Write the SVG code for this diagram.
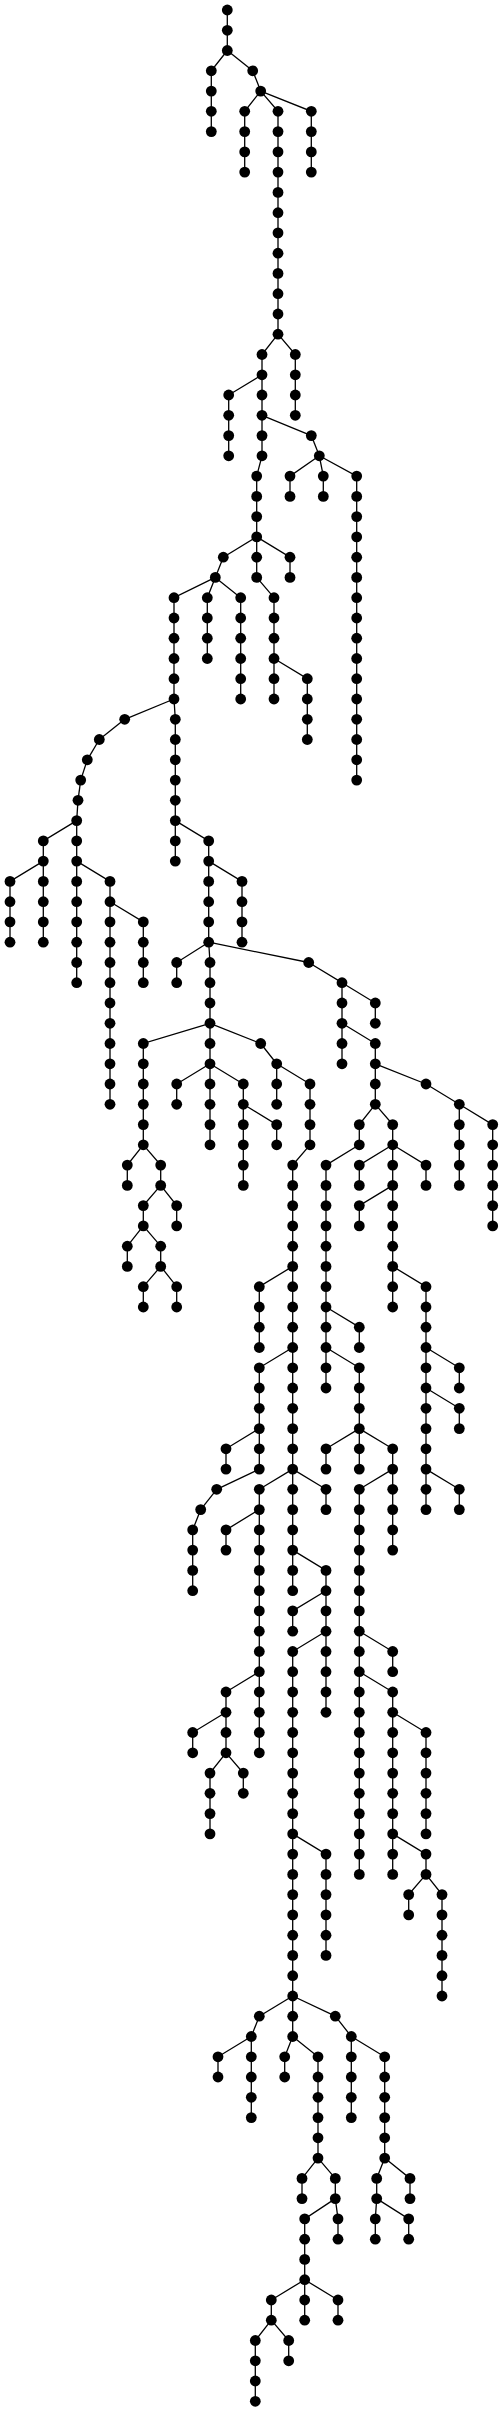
<svg xmlns="http://www.w3.org/2000/svg" width="503" height="2412" viewBox="0 0 503 2412">
<style>
#edges path{fill:none;stroke:#000;stroke-width:1.3}
.d{fill:#000}
</style>
<defs><circle id="d" class="d" cx="0" cy="0" r="5.4"/></defs>
<rect width="503" height="2412" fill="#fff"/>
<g id="edges">
<path d="M227.3 10V50.5"/>
<path d="M227.3 50.5L211.3 70.8V131.6"/>
<path d="M227.3 50.5L252.7 70.8"/>
<path d="M252.7 70.8L260.7 91.1"/>
<path d="M260.7 91.1L244.7 111.3V172.1"/>
<path d="M260.7 91.1L278 111.3V334.2"/>
<path d="M260.7 91.1L311.3 111.3V172.1"/>
<path d="M278 334.2L262 354.5V455.8"/>
<path d="M278 334.2L295.3 354.5V415.3"/>
<path d="M262 374.8L228.7 395V455.8"/>
<path d="M262 415.3L311.3 435.6"/>
<path d="M311.3 435.6L319.3 455.8"/>
<path d="M262 455.8L256.7 476.1V577.4"/>
<path d="M319.3 455.8L290 476.1V496.4"/>
<path d="M319.3 455.8L323.3 476.1V496.4"/>
<path d="M319.3 455.8L356.7 476.1V780.1"/>
<path d="M256.7 536.9L223.3 557.2"/>
<path d="M256.7 536.9L290 557.2V577.4"/>
<path d="M223.3 557.2L215.3 577.4"/>
<path d="M256.7 577.4L274 597.7V699"/>
<path d="M215.3 577.4L174 597.7V699"/>
<path d="M215.3 577.4L207.3 597.7V658.5"/>
<path d="M215.3 577.4L240.7 597.7V699"/>
<path d="M274 658.5L307.3 678.7V739.5"/>
<path d="M174 699L124.7 719.3"/>
<path d="M174 699L175.3 719.3V861.1"/>
<path d="M124.7 719.3L99.3 739.5"/>
<path d="M99.3 739.5L87.3 759.8"/>
<path d="M87.3 759.8L80.7 780.1"/>
<path d="M80.7 780.1L78 800.3"/>
<path d="M78 800.3L76.7 820.6V982.7"/>
<path d="M76.7 820.6L43.3 840.9V942.2"/>
<path d="M43.3 861.1L10 881.4V942.2"/>
<path d="M76.7 861.1L110 881.4V1104.3"/>
<path d="M110 901.7L143.3 921.9V982.7"/>
<path d="M175.3 820.6L208.7 840.9V942.2"/>
<path d="M208.7 861.1L242 881.4V942.2"/>
<path d="M208.7 942.2L176.7 962.5V982.7"/>
<path d="M208.7 942.2L210 962.5V1144.8"/>
<path d="M208.7 942.2L308.7 962.5"/>
<path d="M308.7 962.5L342 982.7V1063.8"/>
<path d="M342 982.7L375.3 1003V1023.3"/>
<path d="M210 1023.3L143.3 1043.5V1144.8"/>
<path d="M210 1023.3L260.7 1043.5"/>
<path d="M260.7 1043.5L276.7 1063.8V1104.3"/>
<path d="M276.7 1063.8L310 1084V1144.8"/>
<path d="M342 1023.3L375.3 1043.5V1104.3"/>
<path d="M375.3 1063.8L426 1084"/>
<path d="M426 1084L459.3 1104.3V1185.4"/>
<path d="M459.3 1104.3L492.7 1124.6V1225.9"/>
<path d="M210 1063.8L176.7 1084V1104.3"/>
<path d="M210 1063.8L243.3 1084V1185.4"/>
<path d="M243.3 1104.3L276.7 1124.6V1144.8"/>
<path d="M375.3 1104.3L359.3 1124.6V1144.8"/>
<path d="M375.3 1104.3L392.7 1124.6V1307"/>
<path d="M359.3 1144.8L326 1165.1V1388"/>
<path d="M392.7 1144.8L359.3 1165.1V1185.4"/>
<path d="M392.7 1144.8L426 1165.1V1185.4"/>
<path d="M392.7 1185.4L359.3 1205.6V1225.9"/>
<path d="M310 1144.8L292.7 1165.1V1590.7"/>
<path d="M143.3 1144.8L127.3 1165.1V1185.4"/>
<path d="M143.3 1144.8L160.7 1165.1V1185.4"/>
<path d="M160.7 1185.4L143.3 1205.6V1225.9"/>
<path d="M160.7 1185.4L176.7 1205.6V1225.9"/>
<path d="M143.3 1225.9L127.3 1246.2V1266.4"/>
<path d="M143.3 1225.9L160.7 1246.2V1266.4"/>
<path d="M160.7 1266.4L143.3 1286.7V1307"/>
<path d="M160.7 1266.4L176.7 1286.7V1307"/>
<path d="M292.7 1266.4L259.3 1286.7V1347.5"/>
<path d="M392.7 1266.4L426 1286.7V1509.6"/>
<path d="M326 1307L359.3 1327.2V1347.5"/>
<path d="M292.7 1347.5L259.3 1367.8V1469.1"/>
<path d="M326 1347.5L359.3 1367.8V1469.1"/>
<path d="M426 1347.5L459.3 1367.8V1388"/>
<path d="M426 1388L459.3 1408.3V1428.6"/>
<path d="M259.3 1428.6L226 1448.8V1469.1"/>
<path d="M359.3 1428.6L326 1448.8V1469.1"/>
<path d="M359.3 1428.6L392.7 1448.8V1550.1"/>
<path d="M259.3 1469.1L216.7 1489.3"/>
<path d="M292.7 1469.1L259.3 1489.3V1752.8"/>
<path d="M292.7 1469.1L326 1489.3V1509.6"/>
<path d="M392.7 1469.1L359.3 1489.3V1874.4"/>
<path d="M426 1469.1L459.3 1489.3V1509.6"/>
<path d="M216.7 1489.3L200.7 1509.6"/>
<path d="M200.7 1509.6L192.7 1529.9V1590.7"/>
<path d="M259.3 1509.6L226 1529.9V1550.1"/>
<path d="M292.7 1550.1L326 1570.4V1712.3"/>
<path d="M326 1590.7L292.7 1610.9V1631.2"/>
<path d="M326 1631.2L292.7 1651.5V2036.5"/>
<path d="M359.3 1631.2L392.7 1651.5V1671.7"/>
<path d="M359.3 1671.7L392.7 1692V1874.4"/>
<path d="M259.3 1671.7L226 1692V1752.8"/>
<path d="M226 1712.3L192.7 1732.5V1752.8"/>
<path d="M226 1752.8L210 1773.1V1833.9"/>
<path d="M226 1752.8L243.3 1773.1V1793.3"/>
<path d="M392.7 1712.3L426 1732.5V1833.9"/>
<path d="M292.7 1833.9L326 1854.1V1955.4"/>
<path d="M392.7 1833.9L426 1854.1V1874.4"/>
<path d="M426 1874.4L408.7 1894.6V1914.9"/>
<path d="M426 1874.4L442 1894.6V1996"/>
<path d="M292.7 1996L259.3 2016.2"/>
<path d="M292.7 1996L335.3 2016.2"/>
<path d="M259.3 2016.2L251.3 2036.5V2117.6"/>
<path d="M335.3 2016.2L351.3 2036.5V2117.6"/>
<path d="M251.3 2036.5L218 2056.8V2077"/>
<path d="M292.7 2036.5L284.7 2056.8V2077"/>
<path d="M292.7 2036.5L318 2056.8V2158.1"/>
<path d="M351.3 2036.5L384.7 2056.8V2158.1"/>
<path d="M318 2158.1L302 2178.4V2198.6"/>
<path d="M318 2158.1L335.3 2178.4V2198.6"/>
<path d="M384.7 2158.1L376.7 2178.4V2198.6"/>
<path d="M384.7 2158.1L410 2178.4V2198.6"/>
<path d="M335.3 2198.6L304.7 2218.9V2320.2"/>
<path d="M335.3 2198.6L338 2218.9V2239.2"/>
<path d="M376.7 2198.6L375.3 2218.9V2239.2"/>
<path d="M376.7 2198.6L408.7 2218.9V2239.2"/>
<path d="M304.7 2279.7L271.3 2300V2320.2"/>
<path d="M304.7 2279.7L338 2300V2320.2"/>
<path d="M271.3 2320.2L255.3 2340.5V2401.3"/>
<path d="M271.3 2320.2L288.7 2340.5V2360.8"/>
</g>
<g id="nodes">
<g id="n0_682"><use href="#d" x="227.3" y="10"/></g>
<g id="n1_682"><use href="#d" x="227.3" y="30.3"/></g>
<g id="n2_682"><use href="#d" x="227.3" y="50.5"/></g>
<g id="n3_634"><use href="#d" x="211.3" y="70.8"/></g>
<g id="n4_634"><use href="#d" x="211.3" y="91.1"/></g>
<g id="n5_634"><use href="#d" x="211.3" y="111.3"/></g>
<g id="n6_634"><use href="#d" x="211.3" y="131.6"/></g>
<g id="n3_758"><use href="#d" x="252.7" y="70.8"/></g>
<g id="n4_782"><use href="#d" x="260.7" y="91.1"/></g>
<g id="n5_734"><use href="#d" x="244.7" y="111.3"/></g>
<g id="n6_734"><use href="#d" x="244.7" y="131.6"/></g>
<g id="n7_734"><use href="#d" x="244.7" y="151.9"/></g>
<g id="n8_734"><use href="#d" x="244.7" y="172.1"/></g>
<g id="n5_834"><use href="#d" x="278" y="111.3"/></g>
<g id="n6_834"><use href="#d" x="278" y="131.6"/></g>
<g id="n7_834"><use href="#d" x="278" y="151.9"/></g>
<g id="n8_834"><use href="#d" x="278" y="172.1"/></g>
<g id="n9_834"><use href="#d" x="278" y="192.4"/></g>
<g id="n10_834"><use href="#d" x="278" y="212.7"/></g>
<g id="n11_834"><use href="#d" x="278" y="232.9"/></g>
<g id="n12_834"><use href="#d" x="278" y="253.2"/></g>
<g id="n13_834"><use href="#d" x="278" y="273.4"/></g>
<g id="n14_834"><use href="#d" x="278" y="293.7"/></g>
<g id="n15_834"><use href="#d" x="278" y="314"/></g>
<g id="n16_834"><use href="#d" x="278" y="334.2"/></g>
<g id="n5_934"><use href="#d" x="311.3" y="111.3"/></g>
<g id="n6_934"><use href="#d" x="311.3" y="131.6"/></g>
<g id="n7_934"><use href="#d" x="311.3" y="151.9"/></g>
<g id="n8_934"><use href="#d" x="311.3" y="172.1"/></g>
<g id="n17_786"><use href="#d" x="262" y="354.5"/></g>
<g id="n18_786"><use href="#d" x="262" y="374.8"/></g>
<g id="n19_786"><use href="#d" x="262" y="395"/></g>
<g id="n20_786"><use href="#d" x="262" y="415.3"/></g>
<g id="n21_786"><use href="#d" x="262" y="435.6"/></g>
<g id="n22_786"><use href="#d" x="262" y="455.8"/></g>
<g id="n17_886"><use href="#d" x="295.3" y="354.5"/></g>
<g id="n18_886"><use href="#d" x="295.3" y="374.8"/></g>
<g id="n19_886"><use href="#d" x="295.3" y="395"/></g>
<g id="n20_886"><use href="#d" x="295.3" y="415.3"/></g>
<g id="n19_686"><use href="#d" x="228.7" y="395"/></g>
<g id="n20_686"><use href="#d" x="228.7" y="415.3"/></g>
<g id="n21_686"><use href="#d" x="228.7" y="435.6"/></g>
<g id="n22_686"><use href="#d" x="228.7" y="455.8"/></g>
<g id="n21_934"><use href="#d" x="311.3" y="435.6"/></g>
<g id="n22_958"><use href="#d" x="319.3" y="455.8"/></g>
<g id="n23_770"><use href="#d" x="256.7" y="476.1"/></g>
<g id="n24_770"><use href="#d" x="256.7" y="496.4"/></g>
<g id="n25_770"><use href="#d" x="256.7" y="516.6"/></g>
<g id="n26_770"><use href="#d" x="256.7" y="536.9"/></g>
<g id="n27_770"><use href="#d" x="256.7" y="557.2"/></g>
<g id="n28_770"><use href="#d" x="256.7" y="577.4"/></g>
<g id="n23_870"><use href="#d" x="290" y="476.1"/></g>
<g id="n24_870"><use href="#d" x="290" y="496.4"/></g>
<g id="n23_970"><use href="#d" x="323.3" y="476.1"/></g>
<g id="n24_970"><use href="#d" x="323.3" y="496.4"/></g>
<g id="n23_1070"><use href="#d" x="356.7" y="476.1"/></g>
<g id="n24_1070"><use href="#d" x="356.7" y="496.4"/></g>
<g id="n25_1070"><use href="#d" x="356.7" y="516.6"/></g>
<g id="n26_1070"><use href="#d" x="356.7" y="536.9"/></g>
<g id="n27_1070"><use href="#d" x="356.7" y="557.2"/></g>
<g id="n28_1070"><use href="#d" x="356.7" y="577.4"/></g>
<g id="n29_1070"><use href="#d" x="356.7" y="597.7"/></g>
<g id="n30_1070"><use href="#d" x="356.7" y="618"/></g>
<g id="n31_1070"><use href="#d" x="356.7" y="638.2"/></g>
<g id="n32_1070"><use href="#d" x="356.7" y="658.5"/></g>
<g id="n33_1070"><use href="#d" x="356.7" y="678.7"/></g>
<g id="n34_1070"><use href="#d" x="356.7" y="699"/></g>
<g id="n35_1070"><use href="#d" x="356.7" y="719.3"/></g>
<g id="n36_1070"><use href="#d" x="356.7" y="739.5"/></g>
<g id="n37_1070"><use href="#d" x="356.7" y="759.8"/></g>
<g id="n38_1070"><use href="#d" x="356.7" y="780.1"/></g>
<g id="n27_670"><use href="#d" x="223.3" y="557.2"/></g>
<g id="n27_870"><use href="#d" x="290" y="557.2"/></g>
<g id="n28_870"><use href="#d" x="290" y="577.4"/></g>
<g id="n28_646"><use href="#d" x="215.3" y="577.4"/></g>
<g id="n29_822"><use href="#d" x="274" y="597.7"/></g>
<g id="n30_822"><use href="#d" x="274" y="618"/></g>
<g id="n31_822"><use href="#d" x="274" y="638.2"/></g>
<g id="n32_822"><use href="#d" x="274" y="658.5"/></g>
<g id="n33_822"><use href="#d" x="274" y="678.7"/></g>
<g id="n34_822"><use href="#d" x="274" y="699"/></g>
<g id="n29_522"><use href="#d" x="174" y="597.7"/></g>
<g id="n30_522"><use href="#d" x="174" y="618"/></g>
<g id="n31_522"><use href="#d" x="174" y="638.2"/></g>
<g id="n32_522"><use href="#d" x="174" y="658.5"/></g>
<g id="n33_522"><use href="#d" x="174" y="678.7"/></g>
<g id="n34_522"><use href="#d" x="174" y="699"/></g>
<g id="n29_622"><use href="#d" x="207.3" y="597.7"/></g>
<g id="n30_622"><use href="#d" x="207.3" y="618"/></g>
<g id="n31_622"><use href="#d" x="207.3" y="638.2"/></g>
<g id="n32_622"><use href="#d" x="207.3" y="658.5"/></g>
<g id="n29_722"><use href="#d" x="240.7" y="597.7"/></g>
<g id="n30_722"><use href="#d" x="240.7" y="618"/></g>
<g id="n31_722"><use href="#d" x="240.7" y="638.2"/></g>
<g id="n32_722"><use href="#d" x="240.7" y="658.5"/></g>
<g id="n33_722"><use href="#d" x="240.7" y="678.7"/></g>
<g id="n34_722"><use href="#d" x="240.7" y="699"/></g>
<g id="n33_922"><use href="#d" x="307.3" y="678.7"/></g>
<g id="n34_922"><use href="#d" x="307.3" y="699"/></g>
<g id="n35_922"><use href="#d" x="307.3" y="719.3"/></g>
<g id="n36_922"><use href="#d" x="307.3" y="739.5"/></g>
<g id="n35_374"><use href="#d" x="124.7" y="719.3"/></g>
<g id="n35_526"><use href="#d" x="175.3" y="719.3"/></g>
<g id="n36_526"><use href="#d" x="175.3" y="739.5"/></g>
<g id="n37_526"><use href="#d" x="175.3" y="759.8"/></g>
<g id="n38_526"><use href="#d" x="175.3" y="780.1"/></g>
<g id="n39_526"><use href="#d" x="175.3" y="800.3"/></g>
<g id="n40_526"><use href="#d" x="175.3" y="820.6"/></g>
<g id="n41_526"><use href="#d" x="175.3" y="840.9"/></g>
<g id="n42_526"><use href="#d" x="175.3" y="861.1"/></g>
<g id="n36_298"><use href="#d" x="99.3" y="739.5"/></g>
<g id="n37_262"><use href="#d" x="87.3" y="759.8"/></g>
<g id="n38_242"><use href="#d" x="80.7" y="780.1"/></g>
<g id="n39_234"><use href="#d" x="78" y="800.3"/></g>
<g id="n40_230"><use href="#d" x="76.7" y="820.6"/></g>
<g id="n41_230"><use href="#d" x="76.7" y="840.9"/></g>
<g id="n42_230"><use href="#d" x="76.7" y="861.1"/></g>
<g id="n43_230"><use href="#d" x="76.7" y="881.4"/></g>
<g id="n44_230"><use href="#d" x="76.7" y="901.7"/></g>
<g id="n45_230"><use href="#d" x="76.7" y="921.9"/></g>
<g id="n46_230"><use href="#d" x="76.7" y="942.2"/></g>
<g id="n47_230"><use href="#d" x="76.7" y="962.5"/></g>
<g id="n48_230"><use href="#d" x="76.7" y="982.7"/></g>
<g id="n41_130"><use href="#d" x="43.3" y="840.9"/></g>
<g id="n42_130"><use href="#d" x="43.3" y="861.1"/></g>
<g id="n43_130"><use href="#d" x="43.3" y="881.4"/></g>
<g id="n44_130"><use href="#d" x="43.3" y="901.7"/></g>
<g id="n45_130"><use href="#d" x="43.3" y="921.9"/></g>
<g id="n46_130"><use href="#d" x="43.3" y="942.2"/></g>
<g id="n43_30"><use href="#d" x="10" y="881.4"/></g>
<g id="n44_30"><use href="#d" x="10" y="901.7"/></g>
<g id="n45_30"><use href="#d" x="10" y="921.9"/></g>
<g id="n46_30"><use href="#d" x="10" y="942.2"/></g>
<g id="n43_330"><use href="#d" x="110" y="881.4"/></g>
<g id="n44_330"><use href="#d" x="110" y="901.7"/></g>
<g id="n45_330"><use href="#d" x="110" y="921.9"/></g>
<g id="n46_330"><use href="#d" x="110" y="942.2"/></g>
<g id="n47_330"><use href="#d" x="110" y="962.5"/></g>
<g id="n48_330"><use href="#d" x="110" y="982.7"/></g>
<g id="n49_330"><use href="#d" x="110" y="1003"/></g>
<g id="n50_330"><use href="#d" x="110" y="1023.3"/></g>
<g id="n51_330"><use href="#d" x="110" y="1043.5"/></g>
<g id="n52_330"><use href="#d" x="110" y="1063.8"/></g>
<g id="n53_330"><use href="#d" x="110" y="1084"/></g>
<g id="n54_330"><use href="#d" x="110" y="1104.3"/></g>
<g id="n45_430"><use href="#d" x="143.3" y="921.9"/></g>
<g id="n46_430"><use href="#d" x="143.3" y="942.2"/></g>
<g id="n47_430"><use href="#d" x="143.3" y="962.5"/></g>
<g id="n48_430"><use href="#d" x="143.3" y="982.7"/></g>
<g id="n41_626"><use href="#d" x="208.7" y="840.9"/></g>
<g id="n42_626"><use href="#d" x="208.7" y="861.1"/></g>
<g id="n43_626"><use href="#d" x="208.7" y="881.4"/></g>
<g id="n44_626"><use href="#d" x="208.7" y="901.7"/></g>
<g id="n45_626"><use href="#d" x="208.7" y="921.9"/></g>
<g id="n46_626"><use href="#d" x="208.7" y="942.2"/></g>
<g id="n43_726"><use href="#d" x="242" y="881.4"/></g>
<g id="n44_726"><use href="#d" x="242" y="901.7"/></g>
<g id="n45_726"><use href="#d" x="242" y="921.9"/></g>
<g id="n46_726"><use href="#d" x="242" y="942.2"/></g>
<g id="n47_530"><use href="#d" x="176.7" y="962.5"/></g>
<g id="n48_530"><use href="#d" x="176.7" y="982.7"/></g>
<g id="n47_630"><use href="#d" x="210" y="962.5"/></g>
<g id="n48_630"><use href="#d" x="210" y="982.7"/></g>
<g id="n49_630"><use href="#d" x="210" y="1003"/></g>
<g id="n50_630"><use href="#d" x="210" y="1023.3"/></g>
<g id="n51_630"><use href="#d" x="210" y="1043.5"/></g>
<g id="n52_630"><use href="#d" x="210" y="1063.8"/></g>
<g id="n53_630"><use href="#d" x="210" y="1084"/></g>
<g id="n54_630"><use href="#d" x="210" y="1104.3"/></g>
<g id="n55_630"><use href="#d" x="210" y="1124.6"/></g>
<g id="n56_630"><use href="#d" x="210" y="1144.8"/></g>
<g id="n47_926"><use href="#d" x="308.7" y="962.5"/></g>
<g id="n48_1026"><use href="#d" x="342" y="982.7"/></g>
<g id="n49_1026"><use href="#d" x="342" y="1003"/></g>
<g id="n50_1026"><use href="#d" x="342" y="1023.3"/></g>
<g id="n51_1026"><use href="#d" x="342" y="1043.5"/></g>
<g id="n52_1026"><use href="#d" x="342" y="1063.8"/></g>
<g id="n49_1126"><use href="#d" x="375.3" y="1003"/></g>
<g id="n50_1126"><use href="#d" x="375.3" y="1023.3"/></g>
<g id="n51_430"><use href="#d" x="143.3" y="1043.5"/></g>
<g id="n52_430"><use href="#d" x="143.3" y="1063.8"/></g>
<g id="n53_430"><use href="#d" x="143.3" y="1084"/></g>
<g id="n54_430"><use href="#d" x="143.3" y="1104.3"/></g>
<g id="n55_430"><use href="#d" x="143.3" y="1124.6"/></g>
<g id="n56_430"><use href="#d" x="143.3" y="1144.8"/></g>
<g id="n51_782"><use href="#d" x="260.7" y="1043.5"/></g>
<g id="n52_830"><use href="#d" x="276.7" y="1063.8"/></g>
<g id="n53_830"><use href="#d" x="276.7" y="1084"/></g>
<g id="n54_830"><use href="#d" x="276.7" y="1104.3"/></g>
<g id="n53_930"><use href="#d" x="310" y="1084"/></g>
<g id="n54_930"><use href="#d" x="310" y="1104.3"/></g>
<g id="n55_930"><use href="#d" x="310" y="1124.6"/></g>
<g id="n56_930"><use href="#d" x="310" y="1144.8"/></g>
<g id="n51_1126"><use href="#d" x="375.3" y="1043.5"/></g>
<g id="n52_1126"><use href="#d" x="375.3" y="1063.8"/></g>
<g id="n53_1126"><use href="#d" x="375.3" y="1084"/></g>
<g id="n54_1126"><use href="#d" x="375.3" y="1104.3"/></g>
<g id="n53_1278"><use href="#d" x="426" y="1084"/></g>
<g id="n54_1378"><use href="#d" x="459.3" y="1104.3"/></g>
<g id="n55_1378"><use href="#d" x="459.3" y="1124.6"/></g>
<g id="n56_1378"><use href="#d" x="459.3" y="1144.8"/></g>
<g id="n57_1378"><use href="#d" x="459.3" y="1165.1"/></g>
<g id="n58_1378"><use href="#d" x="459.3" y="1185.4"/></g>
<g id="n55_1478"><use href="#d" x="492.7" y="1124.6"/></g>
<g id="n56_1478"><use href="#d" x="492.7" y="1144.8"/></g>
<g id="n57_1478"><use href="#d" x="492.7" y="1165.1"/></g>
<g id="n58_1478"><use href="#d" x="492.7" y="1185.4"/></g>
<g id="n59_1478"><use href="#d" x="492.7" y="1205.6"/></g>
<g id="n60_1478"><use href="#d" x="492.7" y="1225.9"/></g>
<g id="n53_530"><use href="#d" x="176.7" y="1084"/></g>
<g id="n54_530"><use href="#d" x="176.7" y="1104.3"/></g>
<g id="n53_730"><use href="#d" x="243.3" y="1084"/></g>
<g id="n54_730"><use href="#d" x="243.3" y="1104.3"/></g>
<g id="n55_730"><use href="#d" x="243.3" y="1124.6"/></g>
<g id="n56_730"><use href="#d" x="243.3" y="1144.8"/></g>
<g id="n57_730"><use href="#d" x="243.3" y="1165.1"/></g>
<g id="n58_730"><use href="#d" x="243.3" y="1185.4"/></g>
<g id="n55_830"><use href="#d" x="276.7" y="1124.6"/></g>
<g id="n56_830"><use href="#d" x="276.7" y="1144.8"/></g>
<g id="n55_1078"><use href="#d" x="359.3" y="1124.6"/></g>
<g id="n56_1078"><use href="#d" x="359.3" y="1144.8"/></g>
<g id="n55_1178"><use href="#d" x="392.7" y="1124.6"/></g>
<g id="n56_1178"><use href="#d" x="392.7" y="1144.8"/></g>
<g id="n57_1178"><use href="#d" x="392.7" y="1165.1"/></g>
<g id="n58_1178"><use href="#d" x="392.7" y="1185.4"/></g>
<g id="n59_1178"><use href="#d" x="392.7" y="1205.6"/></g>
<g id="n60_1178"><use href="#d" x="392.7" y="1225.9"/></g>
<g id="n61_1178"><use href="#d" x="392.7" y="1246.2"/></g>
<g id="n62_1178"><use href="#d" x="392.7" y="1266.4"/></g>
<g id="n63_1178"><use href="#d" x="392.7" y="1286.7"/></g>
<g id="n64_1178"><use href="#d" x="392.7" y="1307"/></g>
<g id="n57_978"><use href="#d" x="326" y="1165.1"/></g>
<g id="n58_978"><use href="#d" x="326" y="1185.4"/></g>
<g id="n59_978"><use href="#d" x="326" y="1205.6"/></g>
<g id="n60_978"><use href="#d" x="326" y="1225.9"/></g>
<g id="n61_978"><use href="#d" x="326" y="1246.2"/></g>
<g id="n62_978"><use href="#d" x="326" y="1266.4"/></g>
<g id="n63_978"><use href="#d" x="326" y="1286.7"/></g>
<g id="n64_978"><use href="#d" x="326" y="1307"/></g>
<g id="n65_978"><use href="#d" x="326" y="1327.2"/></g>
<g id="n66_978"><use href="#d" x="326" y="1347.5"/></g>
<g id="n67_978"><use href="#d" x="326" y="1367.8"/></g>
<g id="n68_978"><use href="#d" x="326" y="1388"/></g>
<g id="n57_1078"><use href="#d" x="359.3" y="1165.1"/></g>
<g id="n58_1078"><use href="#d" x="359.3" y="1185.4"/></g>
<g id="n57_1278"><use href="#d" x="426" y="1165.1"/></g>
<g id="n58_1278"><use href="#d" x="426" y="1185.4"/></g>
<g id="n59_1078"><use href="#d" x="359.3" y="1205.6"/></g>
<g id="n60_1078"><use href="#d" x="359.3" y="1225.9"/></g>
<g id="n57_878"><use href="#d" x="292.7" y="1165.1"/></g>
<g id="n58_878"><use href="#d" x="292.7" y="1185.4"/></g>
<g id="n59_878"><use href="#d" x="292.7" y="1205.6"/></g>
<g id="n60_878"><use href="#d" x="292.7" y="1225.9"/></g>
<g id="n61_878"><use href="#d" x="292.7" y="1246.2"/></g>
<g id="n62_878"><use href="#d" x="292.7" y="1266.4"/></g>
<g id="n63_878"><use href="#d" x="292.7" y="1286.7"/></g>
<g id="n64_878"><use href="#d" x="292.7" y="1307"/></g>
<g id="n65_878"><use href="#d" x="292.7" y="1327.2"/></g>
<g id="n66_878"><use href="#d" x="292.7" y="1347.5"/></g>
<g id="n67_878"><use href="#d" x="292.7" y="1367.8"/></g>
<g id="n68_878"><use href="#d" x="292.7" y="1388"/></g>
<g id="n69_878"><use href="#d" x="292.7" y="1408.3"/></g>
<g id="n70_878"><use href="#d" x="292.7" y="1428.6"/></g>
<g id="n71_878"><use href="#d" x="292.7" y="1448.8"/></g>
<g id="n72_878"><use href="#d" x="292.7" y="1469.1"/></g>
<g id="n73_878"><use href="#d" x="292.7" y="1489.3"/></g>
<g id="n74_878"><use href="#d" x="292.7" y="1509.6"/></g>
<g id="n75_878"><use href="#d" x="292.7" y="1529.9"/></g>
<g id="n76_878"><use href="#d" x="292.7" y="1550.1"/></g>
<g id="n77_878"><use href="#d" x="292.7" y="1570.4"/></g>
<g id="n78_878"><use href="#d" x="292.7" y="1590.7"/></g>
<g id="n57_382"><use href="#d" x="127.3" y="1165.1"/></g>
<g id="n58_382"><use href="#d" x="127.3" y="1185.4"/></g>
<g id="n57_482"><use href="#d" x="160.7" y="1165.1"/></g>
<g id="n58_482"><use href="#d" x="160.7" y="1185.4"/></g>
<g id="n59_430"><use href="#d" x="143.3" y="1205.6"/></g>
<g id="n60_430"><use href="#d" x="143.3" y="1225.9"/></g>
<g id="n59_530"><use href="#d" x="176.7" y="1205.6"/></g>
<g id="n60_530"><use href="#d" x="176.7" y="1225.9"/></g>
<g id="n61_382"><use href="#d" x="127.3" y="1246.2"/></g>
<g id="n62_382"><use href="#d" x="127.3" y="1266.4"/></g>
<g id="n61_482"><use href="#d" x="160.7" y="1246.2"/></g>
<g id="n62_482"><use href="#d" x="160.7" y="1266.4"/></g>
<g id="n63_430"><use href="#d" x="143.3" y="1286.7"/></g>
<g id="n64_430"><use href="#d" x="143.3" y="1307"/></g>
<g id="n63_530"><use href="#d" x="176.7" y="1286.7"/></g>
<g id="n64_530"><use href="#d" x="176.7" y="1307"/></g>
<g id="n63_778"><use href="#d" x="259.3" y="1286.7"/></g>
<g id="n64_778"><use href="#d" x="259.3" y="1307"/></g>
<g id="n65_778"><use href="#d" x="259.3" y="1327.2"/></g>
<g id="n66_778"><use href="#d" x="259.3" y="1347.5"/></g>
<g id="n63_1278"><use href="#d" x="426" y="1286.7"/></g>
<g id="n64_1278"><use href="#d" x="426" y="1307"/></g>
<g id="n65_1278"><use href="#d" x="426" y="1327.2"/></g>
<g id="n66_1278"><use href="#d" x="426" y="1347.5"/></g>
<g id="n67_1278"><use href="#d" x="426" y="1367.8"/></g>
<g id="n68_1278"><use href="#d" x="426" y="1388"/></g>
<g id="n69_1278"><use href="#d" x="426" y="1408.3"/></g>
<g id="n70_1278"><use href="#d" x="426" y="1428.6"/></g>
<g id="n71_1278"><use href="#d" x="426" y="1448.8"/></g>
<g id="n72_1278"><use href="#d" x="426" y="1469.1"/></g>
<g id="n73_1278"><use href="#d" x="426" y="1489.3"/></g>
<g id="n74_1278"><use href="#d" x="426" y="1509.6"/></g>
<g id="n65_1078"><use href="#d" x="359.3" y="1327.2"/></g>
<g id="n66_1078"><use href="#d" x="359.3" y="1347.5"/></g>
<g id="n67_778"><use href="#d" x="259.3" y="1367.8"/></g>
<g id="n68_778"><use href="#d" x="259.3" y="1388"/></g>
<g id="n69_778"><use href="#d" x="259.3" y="1408.3"/></g>
<g id="n70_778"><use href="#d" x="259.3" y="1428.6"/></g>
<g id="n71_778"><use href="#d" x="259.3" y="1448.8"/></g>
<g id="n72_778"><use href="#d" x="259.3" y="1469.1"/></g>
<g id="n67_1078"><use href="#d" x="359.3" y="1367.8"/></g>
<g id="n68_1078"><use href="#d" x="359.3" y="1388"/></g>
<g id="n69_1078"><use href="#d" x="359.3" y="1408.3"/></g>
<g id="n70_1078"><use href="#d" x="359.3" y="1428.6"/></g>
<g id="n71_1078"><use href="#d" x="359.3" y="1448.8"/></g>
<g id="n72_1078"><use href="#d" x="359.3" y="1469.1"/></g>
<g id="n67_1378"><use href="#d" x="459.3" y="1367.8"/></g>
<g id="n68_1378"><use href="#d" x="459.3" y="1388"/></g>
<g id="n69_1378"><use href="#d" x="459.3" y="1408.3"/></g>
<g id="n70_1378"><use href="#d" x="459.3" y="1428.6"/></g>
<g id="n71_678"><use href="#d" x="226" y="1448.8"/></g>
<g id="n72_678"><use href="#d" x="226" y="1469.1"/></g>
<g id="n71_978"><use href="#d" x="326" y="1448.8"/></g>
<g id="n72_978"><use href="#d" x="326" y="1469.1"/></g>
<g id="n71_1178"><use href="#d" x="392.7" y="1448.8"/></g>
<g id="n72_1178"><use href="#d" x="392.7" y="1469.1"/></g>
<g id="n73_1178"><use href="#d" x="392.7" y="1489.3"/></g>
<g id="n74_1178"><use href="#d" x="392.7" y="1509.6"/></g>
<g id="n75_1178"><use href="#d" x="392.7" y="1529.9"/></g>
<g id="n76_1178"><use href="#d" x="392.7" y="1550.1"/></g>
<g id="n73_650"><use href="#d" x="216.7" y="1489.3"/></g>
<g id="n73_778"><use href="#d" x="259.3" y="1489.3"/></g>
<g id="n74_778"><use href="#d" x="259.3" y="1509.6"/></g>
<g id="n75_778"><use href="#d" x="259.3" y="1529.9"/></g>
<g id="n76_778"><use href="#d" x="259.3" y="1550.1"/></g>
<g id="n77_778"><use href="#d" x="259.3" y="1570.4"/></g>
<g id="n78_778"><use href="#d" x="259.3" y="1590.7"/></g>
<g id="n79_778"><use href="#d" x="259.3" y="1610.9"/></g>
<g id="n80_778"><use href="#d" x="259.3" y="1631.2"/></g>
<g id="n81_778"><use href="#d" x="259.3" y="1651.5"/></g>
<g id="n82_778"><use href="#d" x="259.3" y="1671.7"/></g>
<g id="n83_778"><use href="#d" x="259.3" y="1692"/></g>
<g id="n84_778"><use href="#d" x="259.3" y="1712.3"/></g>
<g id="n85_778"><use href="#d" x="259.3" y="1732.5"/></g>
<g id="n86_778"><use href="#d" x="259.3" y="1752.8"/></g>
<g id="n73_978"><use href="#d" x="326" y="1489.3"/></g>
<g id="n74_978"><use href="#d" x="326" y="1509.6"/></g>
<g id="n73_1078"><use href="#d" x="359.3" y="1489.3"/></g>
<g id="n74_1078"><use href="#d" x="359.3" y="1509.6"/></g>
<g id="n75_1078"><use href="#d" x="359.3" y="1529.9"/></g>
<g id="n76_1078"><use href="#d" x="359.3" y="1550.1"/></g>
<g id="n77_1078"><use href="#d" x="359.3" y="1570.4"/></g>
<g id="n78_1078"><use href="#d" x="359.3" y="1590.7"/></g>
<g id="n79_1078"><use href="#d" x="359.3" y="1610.9"/></g>
<g id="n80_1078"><use href="#d" x="359.3" y="1631.2"/></g>
<g id="n81_1078"><use href="#d" x="359.3" y="1651.5"/></g>
<g id="n82_1078"><use href="#d" x="359.3" y="1671.7"/></g>
<g id="n83_1078"><use href="#d" x="359.3" y="1692"/></g>
<g id="n84_1078"><use href="#d" x="359.3" y="1712.3"/></g>
<g id="n85_1078"><use href="#d" x="359.3" y="1732.5"/></g>
<g id="n86_1078"><use href="#d" x="359.3" y="1752.8"/></g>
<g id="n87_1078"><use href="#d" x="359.3" y="1773.1"/></g>
<g id="n88_1078"><use href="#d" x="359.3" y="1793.3"/></g>
<g id="n89_1078"><use href="#d" x="359.3" y="1813.6"/></g>
<g id="n90_1078"><use href="#d" x="359.3" y="1833.9"/></g>
<g id="n91_1078"><use href="#d" x="359.3" y="1854.1"/></g>
<g id="n92_1078"><use href="#d" x="359.3" y="1874.4"/></g>
<g id="n73_1378"><use href="#d" x="459.3" y="1489.3"/></g>
<g id="n74_1378"><use href="#d" x="459.3" y="1509.6"/></g>
<g id="n74_602"><use href="#d" x="200.7" y="1509.6"/></g>
<g id="n75_578"><use href="#d" x="192.7" y="1529.9"/></g>
<g id="n76_578"><use href="#d" x="192.7" y="1550.1"/></g>
<g id="n77_578"><use href="#d" x="192.7" y="1570.4"/></g>
<g id="n78_578"><use href="#d" x="192.7" y="1590.7"/></g>
<g id="n75_678"><use href="#d" x="226" y="1529.9"/></g>
<g id="n76_678"><use href="#d" x="226" y="1550.1"/></g>
<g id="n77_978"><use href="#d" x="326" y="1570.4"/></g>
<g id="n78_978"><use href="#d" x="326" y="1590.7"/></g>
<g id="n79_978"><use href="#d" x="326" y="1610.9"/></g>
<g id="n80_978"><use href="#d" x="326" y="1631.2"/></g>
<g id="n81_978"><use href="#d" x="326" y="1651.5"/></g>
<g id="n82_978"><use href="#d" x="326" y="1671.7"/></g>
<g id="n83_978"><use href="#d" x="326" y="1692"/></g>
<g id="n84_978"><use href="#d" x="326" y="1712.3"/></g>
<g id="n79_878"><use href="#d" x="292.7" y="1610.9"/></g>
<g id="n80_878"><use href="#d" x="292.7" y="1631.2"/></g>
<g id="n81_878"><use href="#d" x="292.7" y="1651.5"/></g>
<g id="n82_878"><use href="#d" x="292.7" y="1671.7"/></g>
<g id="n83_878"><use href="#d" x="292.7" y="1692"/></g>
<g id="n84_878"><use href="#d" x="292.7" y="1712.3"/></g>
<g id="n85_878"><use href="#d" x="292.7" y="1732.5"/></g>
<g id="n86_878"><use href="#d" x="292.7" y="1752.8"/></g>
<g id="n87_878"><use href="#d" x="292.7" y="1773.1"/></g>
<g id="n88_878"><use href="#d" x="292.7" y="1793.3"/></g>
<g id="n89_878"><use href="#d" x="292.7" y="1813.6"/></g>
<g id="n90_878"><use href="#d" x="292.7" y="1833.9"/></g>
<g id="n91_878"><use href="#d" x="292.7" y="1854.1"/></g>
<g id="n92_878"><use href="#d" x="292.7" y="1874.4"/></g>
<g id="n93_878"><use href="#d" x="292.7" y="1894.6"/></g>
<g id="n94_878"><use href="#d" x="292.7" y="1914.9"/></g>
<g id="n95_878"><use href="#d" x="292.7" y="1935.2"/></g>
<g id="n96_878"><use href="#d" x="292.7" y="1955.4"/></g>
<g id="n97_878"><use href="#d" x="292.7" y="1975.7"/></g>
<g id="n98_878"><use href="#d" x="292.7" y="1996"/></g>
<g id="n99_878"><use href="#d" x="292.7" y="2016.2"/></g>
<g id="n100_878"><use href="#d" x="292.7" y="2036.5"/></g>
<g id="n81_1178"><use href="#d" x="392.7" y="1651.5"/></g>
<g id="n82_1178"><use href="#d" x="392.7" y="1671.7"/></g>
<g id="n83_1178"><use href="#d" x="392.7" y="1692"/></g>
<g id="n84_1178"><use href="#d" x="392.7" y="1712.3"/></g>
<g id="n85_1178"><use href="#d" x="392.7" y="1732.5"/></g>
<g id="n86_1178"><use href="#d" x="392.7" y="1752.8"/></g>
<g id="n87_1178"><use href="#d" x="392.7" y="1773.1"/></g>
<g id="n88_1178"><use href="#d" x="392.7" y="1793.3"/></g>
<g id="n89_1178"><use href="#d" x="392.7" y="1813.6"/></g>
<g id="n90_1178"><use href="#d" x="392.7" y="1833.9"/></g>
<g id="n91_1178"><use href="#d" x="392.7" y="1854.1"/></g>
<g id="n92_1178"><use href="#d" x="392.7" y="1874.4"/></g>
<g id="n83_678"><use href="#d" x="226" y="1692"/></g>
<g id="n84_678"><use href="#d" x="226" y="1712.3"/></g>
<g id="n85_678"><use href="#d" x="226" y="1732.5"/></g>
<g id="n86_678"><use href="#d" x="226" y="1752.8"/></g>
<g id="n85_578"><use href="#d" x="192.7" y="1732.5"/></g>
<g id="n86_578"><use href="#d" x="192.7" y="1752.8"/></g>
<g id="n87_630"><use href="#d" x="210" y="1773.1"/></g>
<g id="n88_630"><use href="#d" x="210" y="1793.3"/></g>
<g id="n89_630"><use href="#d" x="210" y="1813.6"/></g>
<g id="n90_630"><use href="#d" x="210" y="1833.9"/></g>
<g id="n87_730"><use href="#d" x="243.3" y="1773.1"/></g>
<g id="n88_730"><use href="#d" x="243.3" y="1793.3"/></g>
<g id="n85_1278"><use href="#d" x="426" y="1732.5"/></g>
<g id="n86_1278"><use href="#d" x="426" y="1752.8"/></g>
<g id="n87_1278"><use href="#d" x="426" y="1773.1"/></g>
<g id="n88_1278"><use href="#d" x="426" y="1793.3"/></g>
<g id="n89_1278"><use href="#d" x="426" y="1813.6"/></g>
<g id="n90_1278"><use href="#d" x="426" y="1833.9"/></g>
<g id="n91_978"><use href="#d" x="326" y="1854.1"/></g>
<g id="n92_978"><use href="#d" x="326" y="1874.4"/></g>
<g id="n93_978"><use href="#d" x="326" y="1894.6"/></g>
<g id="n94_978"><use href="#d" x="326" y="1914.9"/></g>
<g id="n95_978"><use href="#d" x="326" y="1935.2"/></g>
<g id="n96_978"><use href="#d" x="326" y="1955.4"/></g>
<g id="n91_1278"><use href="#d" x="426" y="1854.1"/></g>
<g id="n92_1278"><use href="#d" x="426" y="1874.4"/></g>
<g id="n93_1226"><use href="#d" x="408.7" y="1894.6"/></g>
<g id="n94_1226"><use href="#d" x="408.7" y="1914.9"/></g>
<g id="n93_1326"><use href="#d" x="442" y="1894.6"/></g>
<g id="n94_1326"><use href="#d" x="442" y="1914.9"/></g>
<g id="n95_1326"><use href="#d" x="442" y="1935.2"/></g>
<g id="n96_1326"><use href="#d" x="442" y="1955.4"/></g>
<g id="n97_1326"><use href="#d" x="442" y="1975.7"/></g>
<g id="n98_1326"><use href="#d" x="442" y="1996"/></g>
<g id="n99_778"><use href="#d" x="259.3" y="2016.2"/></g>
<g id="n99_1006"><use href="#d" x="335.3" y="2016.2"/></g>
<g id="n100_754"><use href="#d" x="251.3" y="2036.5"/></g>
<g id="n101_754"><use href="#d" x="251.3" y="2056.8"/></g>
<g id="n102_754"><use href="#d" x="251.3" y="2077"/></g>
<g id="n103_754"><use href="#d" x="251.3" y="2097.3"/></g>
<g id="n104_754"><use href="#d" x="251.3" y="2117.6"/></g>
<g id="n100_1054"><use href="#d" x="351.3" y="2036.5"/></g>
<g id="n101_1054"><use href="#d" x="351.3" y="2056.8"/></g>
<g id="n102_1054"><use href="#d" x="351.3" y="2077"/></g>
<g id="n103_1054"><use href="#d" x="351.3" y="2097.3"/></g>
<g id="n104_1054"><use href="#d" x="351.3" y="2117.6"/></g>
<g id="n101_654"><use href="#d" x="218" y="2056.8"/></g>
<g id="n102_654"><use href="#d" x="218" y="2077"/></g>
<g id="n101_854"><use href="#d" x="284.7" y="2056.8"/></g>
<g id="n102_854"><use href="#d" x="284.7" y="2077"/></g>
<g id="n101_954"><use href="#d" x="318" y="2056.8"/></g>
<g id="n102_954"><use href="#d" x="318" y="2077"/></g>
<g id="n103_954"><use href="#d" x="318" y="2097.3"/></g>
<g id="n104_954"><use href="#d" x="318" y="2117.6"/></g>
<g id="n105_954"><use href="#d" x="318" y="2137.8"/></g>
<g id="n106_954"><use href="#d" x="318" y="2158.1"/></g>
<g id="n101_1154"><use href="#d" x="384.7" y="2056.8"/></g>
<g id="n102_1154"><use href="#d" x="384.7" y="2077"/></g>
<g id="n103_1154"><use href="#d" x="384.7" y="2097.3"/></g>
<g id="n104_1154"><use href="#d" x="384.7" y="2117.6"/></g>
<g id="n105_1154"><use href="#d" x="384.7" y="2137.8"/></g>
<g id="n106_1154"><use href="#d" x="384.7" y="2158.1"/></g>
<g id="n107_906"><use href="#d" x="302" y="2178.4"/></g>
<g id="n108_906"><use href="#d" x="302" y="2198.6"/></g>
<g id="n107_1006"><use href="#d" x="335.3" y="2178.4"/></g>
<g id="n108_1006"><use href="#d" x="335.3" y="2198.6"/></g>
<g id="n107_1130"><use href="#d" x="376.7" y="2178.4"/></g>
<g id="n108_1130"><use href="#d" x="376.7" y="2198.6"/></g>
<g id="n107_1230"><use href="#d" x="410" y="2178.4"/></g>
<g id="n108_1230"><use href="#d" x="410" y="2198.6"/></g>
<g id="n109_914"><use href="#d" x="304.7" y="2218.9"/></g>
<g id="n110_914"><use href="#d" x="304.7" y="2239.2"/></g>
<g id="n111_914"><use href="#d" x="304.7" y="2259.4"/></g>
<g id="n112_914"><use href="#d" x="304.7" y="2279.7"/></g>
<g id="n113_914"><use href="#d" x="304.7" y="2300"/></g>
<g id="n114_914"><use href="#d" x="304.7" y="2320.2"/></g>
<g id="n109_1014"><use href="#d" x="338" y="2218.9"/></g>
<g id="n110_1014"><use href="#d" x="338" y="2239.2"/></g>
<g id="n109_1126"><use href="#d" x="375.3" y="2218.9"/></g>
<g id="n110_1126"><use href="#d" x="375.3" y="2239.2"/></g>
<g id="n109_1226"><use href="#d" x="408.7" y="2218.9"/></g>
<g id="n110_1226"><use href="#d" x="408.7" y="2239.2"/></g>
<g id="n113_814"><use href="#d" x="271.3" y="2300"/></g>
<g id="n114_814"><use href="#d" x="271.3" y="2320.2"/></g>
<g id="n113_1014"><use href="#d" x="338" y="2300"/></g>
<g id="n114_1014"><use href="#d" x="338" y="2320.2"/></g>
<g id="n115_766"><use href="#d" x="255.3" y="2340.5"/></g>
<g id="n116_766"><use href="#d" x="255.3" y="2360.8"/></g>
<g id="n117_766"><use href="#d" x="255.3" y="2381"/></g>
<g id="n118_766"><use href="#d" x="255.3" y="2401.3"/></g>
<g id="n115_866"><use href="#d" x="288.7" y="2340.5"/></g>
<g id="n116_866"><use href="#d" x="288.7" y="2360.8"/></g>
</g>
</svg>
